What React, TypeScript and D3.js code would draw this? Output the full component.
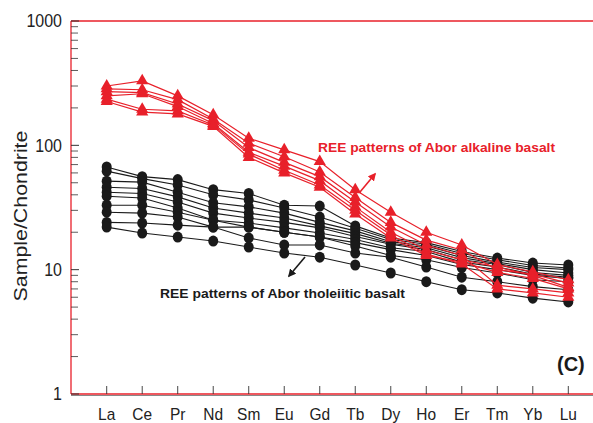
import React from "react";
import * as d3 from "d3";

// Rare earth elements, chondrite-normalised
const elements = ["La", "Ce", "Pr", "Nd", "Sm", "Eu", "Gd", "Tb", "Dy", "Ho", "Er", "Tm", "Yb", "Lu"];

// Abor alkaline basalt samples
const alkaline: number[][] = [
  [300, 330, 250, 176, 114, 92, 74, 44, 29, 20, 15.8, 11, 9.6, 8.3],
  [285, 280, 233, 163, 104, 81, 61, 38, 24, 17.3, 14.4, 10, 9.2, 7.8],
  [270, 265, 215, 158, 96, 73, 56, 35, 22, 15.8, 13, 7.5, 7, 6.5],
  [250, 260, 205, 150, 88, 68, 52, 32, 20, 14.4, 12, 10.5, 9, 7.2],
  [235, 195, 189, 146, 85, 63, 48, 30, 19, 13.4, 11.1, 7, 6.5, 6],
  [225, 185, 179, 142, 80, 60, 46, 28, 18, 13, 11.5, 9.5, 8.5, 7],
];

// Abor tholeiitic basalt samples
const tholeiitic: number[][] = [
  [67, 56, 53, 44, 41, 33, 32.5, 22.5, 18, 16.5, 14, 12.4, 11.3, 10.9],
  [62, 54, 48, 40, 36.4, 31.3, 26.5, 21.5, 17.5, 16, 13.5, 12, 10.8, 10.3],
  [51.5, 50.6, 42, 34.5, 32, 28.5, 24, 20.5, 16.8, 15.5, 13, 11.5, 10.4, 10],
  [46, 45, 38.5, 31.3, 28.5, 26, 22.5, 19.5, 16.3, 15, 12.5, 11.2, 10, 9.4],
  [42, 41, 35, 28.5, 26, 24, 21.7, 18.5, 16, 14.5, 12, 11, 9.5, 9],
  [39, 37.7, 31.3, 25, 23.7, 21.7, 19.7, 17.5, 15, 14, 11.5, 10.5, 9.2, 8.7],
  [33, 33, 29, 25, 22, 20, 18.3, 16.5, 14.5, 13, 11, 10, 9, 8.5],
  [29, 28.5, 26.5, 22, 22, 20, 18.3, 15.5, 13, 12, 10.4, 9.4, 8.3, 8],
  [24, 23.7, 22.8, 22, 18, 15.8, 15.8, 13.6, 12.6, 10.5, 8.7, 8, 7.3, 6.9],
  [22, 19.7, 18.3, 17, 15.2, 13.6, 12.6, 10.9, 9.4, 8, 6.9, 6.5, 5.9, 5.5],
];

const yTicks = [1, 10, 100, 1000];

const W = 593;
const H = 423;
const left = 71;
const top = 21;
const bottom = 394;
const RED = "#e8202a";

export default function App() {
  const x = d3.scalePoint<string>().domain(elements).range([106.7, 568.3]);
  const y = d3.scaleLog().domain([1, 1000]).range([bottom, top]);

  const line = d3
    .line<number>()
    .x((_, i) => x(elements[i]) as number)
    .y((v) => y(v));

  const minor: number[] = [];
  for (let e = 0; e < 3; e++) {
    for (let k = 2; k <= 9; k++) minor.push(k * Math.pow(10, e));
  }

  const tri = d3.symbol().type(d3.symbolTriangle).size(64)() as string;

  return (
    <svg width={W} height={H} style={{ position: "absolute", left: 0, top: 0, background: "#fff" }}
      fontFamily="'Liberation Sans', Arial, sans-serif">
      {/* frame */}
      <line x1={left} x2={W} y1={top} y2={top} stroke={RED} strokeWidth={1.3} />
      <line x1={left} x2={W} y1={bottom + 1.5} y2={bottom + 1.5} stroke="#888" strokeWidth={1} />
      <line x1={left} x2={W} y1={bottom} y2={bottom} stroke={RED} strokeWidth={1.3} />
      <line x1={left} x2={left} y1={top} y2={bottom} stroke={RED} strokeWidth={1.3} />

      {/* y ticks */}
      {yTicks.map((t) => (
        <g key={"yt" + t}>
          <line x1={left} x2={left + 8} y1={y(t)} y2={y(t)} stroke="#333" strokeWidth={1} />
          <text x={62} y={y(t)} dy="0.36em" textAnchor="end" fontSize={16} fill="#222"
            transform={`translate(0 ${y(t)}) scale(1 1.1) translate(0 ${-y(t)})`}>
            {t}
          </text>
        </g>
      ))}
      {minor.map((t) => (
        <line key={"ym" + t} x1={left} x2={left + 7} y1={y(t)} y2={y(t)} stroke="#333" strokeWidth={0.8} />
      ))}

      {/* x ticks and labels */}
      {elements.map((el) => (
        <g key={el}>
          <line x1={x(el)} x2={x(el)} y1={bottom} y2={bottom - 8} stroke="#333" strokeWidth={0.9} />
          <text x={x(el)} y={420} textAnchor="middle" fontSize={15.5} fill="#222"
            transform={`translate(0 420) scale(1 1.12) translate(0 -420)`}>
            {el}
          </text>
        </g>
      ))}

      {/* y axis title */}
      <text transform="translate(27 216) rotate(-90) scale(1.22 1)" textAnchor="middle" fontSize={17.5} fill="#222">
        Sample/Chondrite
      </text>

      {/* tholeiitic patterns */}
      {tholeiitic.map((s, i) => (
        <g key={"t" + i}>
          <path d={line(s) as string} fill="none" stroke="#1a1a1a" strokeWidth={1.1} />
          {s.map((v, j) => (
            <ellipse key={j} cx={x(elements[j])} cy={y(v)} rx={5} ry={5.5} fill="#1a1a1a" />
          ))}
        </g>
      ))}

      {/* alkaline patterns */}
      {alkaline.map((s, i) => (
        <g key={"a" + i}>
          <path d={line(s) as string} fill="none" stroke={RED} strokeWidth={1.2} />
          {s.map((v, j) => (
            <path key={j} d={tri} transform={`translate(${x(elements[j])} ${y(v)})`} fill={RED} />
          ))}
        </g>
      ))}

      {/* annotations */}
      <defs>
        <marker id="headR" viewBox="0 0 10 10" refX="8" refY="5" markerWidth="5" markerHeight="5" orient="auto">
          <path d="M0,0 L10,5 L0,10 z" fill={RED} />
        </marker>
        <marker id="headK" viewBox="0 0 10 10" refX="8" refY="5" markerWidth="5" markerHeight="5" orient="auto">
          <path d="M0,0 L10,5 L0,10 z" fill="#1a1a1a" />
        </marker>
      </defs>
      <text x={318} y={152} fontSize={13} fill={RED} fontWeight={600} textLength={237} lengthAdjust="spacingAndGlyphs">
        REE patterns of Abor alkaline basalt
      </text>
      <line x1={360} y1={192} x2={375} y2={174} stroke={RED} strokeWidth={1.6} markerEnd="url(#headR)" />
      <text x={160} y={298} fontSize={13} fill="#1a1a1a" fontWeight={600} textLength={245} lengthAdjust="spacingAndGlyphs">
        REE patterns of Abor tholeiitic basalt
      </text>
      <line x1={305} y1={257} x2={289} y2={276} stroke="#1a1a1a" strokeWidth={1.6} markerEnd="url(#headK)" />

      <text x={557} y={371} fontSize={20} fontWeight="bold" fill="#1a1a1a">(C)</text>
    </svg>
  );
}
